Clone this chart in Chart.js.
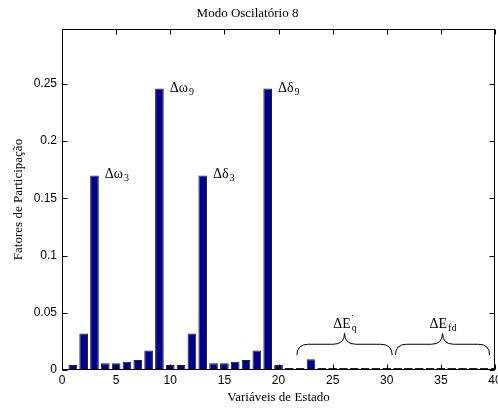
<!DOCTYPE html>
<html>
<head>
<meta charset="utf-8">
<script src="https://cdn.jsdelivr.net/npm/chart.js@4"></script>
<style>
  body { margin: 0; background: #fff; }
  #wrap { width: 498px; height: 411px; }
</style>
</head>
<body>
<div id="wrap"><canvas id="modeChart"></canvas></div>
<script>
// state variables 1..40 and their participation factors (oscillatory mode 8)
const states = [1, 2, 3, 4, 5, 6, 7, 8, 9, 10, 11, 12, 13, 14, 15, 16, 17, 18, 19, 20,
                21, 22, 23, 24, 25, 26, 27, 28, 29, 30, 31, 32, 33, 34, 35, 36, 37, 38, 39, 40];
const participation = [0.0044, 0.032, 0.170, 0.006, 0.006, 0.0072, 0.0087, 0.017, 0.246, 0.0044,
                       0.0044, 0.032, 0.170, 0.006, 0.006, 0.0072, 0.0087, 0.017, 0.246, 0.0044,
                       0.0009, 0.0016, 0.0093, 0.0018, 0.0016, 0.0009, 0.0008, 0.0008, 0.0016, 0.0008,
                       0.0008, 0.0008, 0.0008, 0.0008, 0.0008, 0.0008, 0.0008, 0.0008, 0.0008, 0.0008];
const xTicks = [0, 5, 10, 15, 20, 25, 30, 35, 40];
const yTicks = [0, 0.05, 0.1, 0.15, 0.2, 0.25];

// labels on the dominant bars
const peakStates = [3, 9, 13, 19];
const peakNames = ['Δω', 'Δω', 'Δδ', 'Δδ'];
const peakSubs = ['3', '9', '3', '9'];

// braces over groups of states
const groupFrom = [21.7, 30.8];
const groupTo = [30.5, 39.5];
const groupNames = ['ΔE', 'ΔE'];
const groupSups = ['\u02D9', ''];
const groupSubs = ['q', 'fd'];

const serif = '"Liberation Serif", "Times New Roman", serif';
const sans = '"Liberation Sans", Arial, sans-serif';

function drawLabel(ctx, main, sup, sub, x, y, align) {
    ctx.font = '14px ' + serif;
    const wMain = ctx.measureText(main).width;
    ctx.font = '10px ' + serif;
    const wSup = sup ? ctx.measureText(sup).width : 0;
    const wSub = ctx.measureText(sub).width;
    const total = wMain + Math.max(wSup, wSub);
    let left = align === 'center' ? x - total / 2 : x;
    ctx.textAlign = 'left';
    ctx.textBaseline = 'alphabetic';
    ctx.font = '14px ' + serif;
    ctx.fillText(main, left, y);
    ctx.font = '10px ' + serif;
    if (sup) ctx.fillText(sup, left + wMain, y - 6);
    ctx.fillText(sub, left + wMain + 1, y + 3);
}

function drawBrace(ctx, x0, x1, yBottom, yTop) {
    const mid = (x0 + x1) / 2;
    const yMid = yBottom - (yBottom - yTop) * 0.5;
    const r = (x1 - x0) * 0.12;
    ctx.beginPath();
    ctx.moveTo(x0, yBottom);
    ctx.quadraticCurveTo(x0, yMid, x0 + r, yMid);
    ctx.lineTo(mid - r, yMid);
    ctx.quadraticCurveTo(mid, yMid, mid, yTop);
    ctx.moveTo(x1, yBottom);
    ctx.quadraticCurveTo(x1, yMid, x1 - r, yMid);
    ctx.lineTo(mid + r, yMid);
    ctx.quadraticCurveTo(mid, yMid, mid, yTop);
    ctx.stroke();
}

const markPlugin = {
    id: 'marks',
    afterDatasetsDraw(chart) {
        const ctx = chart.ctx;
        const x = chart.scales.x;
        const y = chart.scales.y;
        ctx.save();
        ctx.fillStyle = '#000';
        peakStates.forEach(function (s, i) {
            const px = x.getPixelForValue(s + 0.4) + 6;
            const py = y.getPixelForValue(participation[s - 1]) + 3;
            drawLabel(ctx, peakNames[i], '', peakSubs[i], px, py, 'left');
        });
        ctx.strokeStyle = '#000';
        ctx.lineWidth = 1;
        groupFrom.forEach(function (from, i) {
            const x0 = x.getPixelForValue(from);
            const x1 = x.getPixelForValue(groupTo[i]);
            const yb = y.getPixelForValue(0.013);
            const yt = y.getPixelForValue(0.032);
            drawBrace(ctx, x0, x1, yb, yt);
            drawLabel(ctx, groupNames[i], groupSups[i], groupSubs[i], (x0 + x1) / 2, yt - 5, 'center');
        });
        ctx.restore();
    },
    afterDraw(chart) {
        const ctx = chart.ctx;
        const a = chart.chartArea;
        const x = chart.scales.x;
        const y = chart.scales.y;
        const L = Math.round(a.left) + 0.5, R = Math.round(a.right) - 0.5;
        const T = Math.round(a.top) + 0.5, B = Math.round(a.bottom) - 0.5;
        ctx.save();
        ctx.strokeStyle = '#000';
        ctx.lineWidth = 1;
        ctx.strokeRect(L, T, R - L, B - T);
        ctx.beginPath();
        xTicks.forEach(function (v) {
            const px = Math.round(x.getPixelForValue(v)) + 0.5;
            ctx.moveTo(px, B); ctx.lineTo(px, B - 5);
            ctx.moveTo(px, T); ctx.lineTo(px, T + 5);
        });
        yTicks.forEach(function (v) {
            const py = Math.round(y.getPixelForValue(v)) + 0.5;
            ctx.moveTo(L, py); ctx.lineTo(L + 5, py);
            ctx.moveTo(R, py); ctx.lineTo(R - 5, py);
        });
        ctx.stroke();
        ctx.restore();
    }
};

new Chart(document.getElementById('modeChart'), {
    type: 'bar',
    data: {
        datasets: [{
            label: 'Fatores de Participação',
            data: states.map(function (s, i) { return { x: s, y: participation[i] }; }),
            backgroundColor: '#00008f',
            borderColor: '#222222',
            borderWidth: 1,
            minBarLength: 2,
            barPercentage: 1,
            categoryPercentage: 0.8
        }]
    },
    options: {
        responsive: true,
        maintainAspectRatio: false,
        animation: false,
        layout: { padding: { top: 0, right: 3, left: 0, bottom: 0 } },
        plugins: {
            legend: { display: false },
            tooltip: { enabled: false },
            title: {
                display: true,
                text: 'Modo Oscilatório 8',
                color: '#000',
                font: { family: serif, size: 13, weight: 'normal' },
                padding: { top: 6, bottom: 7.4 }
            }
        },
        scales: {
            x: {
                type: 'linear',
                min: 0,
                max: 40,
                offset: false,
                grid: { display: false, drawTicks: false },
                border: { display: false },
                afterBuildTicks: function (scale) {
                    scale.ticks = xTicks.map(function (v) { return { value: v }; });
                },
                afterFit: function (scale) {
                    scale.height = 41;
                    scale.paddingLeft = 0;
                    scale.paddingRight = 0;
                },
                ticks: {
                    color: '#000',
                    padding: 3,
                    maxRotation: 0,
                    font: { family: sans, size: 12 },
                    callback: function (v) { return String(v); }
                },
                title: {
                    display: true,
                    text: 'Variáveis de Estado',
                    color: '#000',
                    font: { family: serif, size: 13 },
                    padding: { top: 0, bottom: 6 }
                }
            },
            y: {
                min: 0,
                max: 0.298,
                grid: { display: false, drawTicks: false },
                border: { display: false },
                afterBuildTicks: function (scale) {
                    scale.ticks = yTicks.map(function (v) { return { value: v }; });
                },
                afterFit: function (scale) {
                    scale.width = 62;
                },
                ticks: {
                    color: '#000',
                    padding: 5,
                    font: { family: sans, size: 12 },
                    callback: function (v) { return String(v); }
                },
                title: {
                    display: true,
                    text: 'Fatores de Participação',
                    color: '#000',
                    font: { family: serif, size: 13 },
                    padding: { top: 11, bottom: 0 }
                }
            }
        }
    },
    plugins: [markPlugin]
});
</script>
</body>
</html>
